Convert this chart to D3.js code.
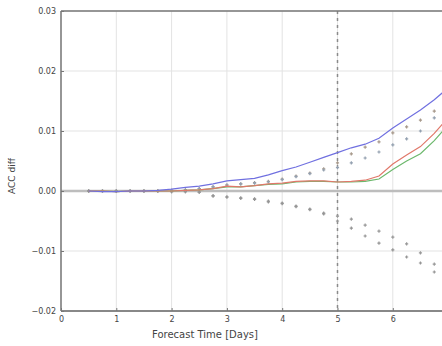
<!DOCTYPE html>
<html><head><meta charset="utf-8">
<script src="https://cdn.jsdelivr.net/npm/d3@7"></script>
<style>html,body{margin:0;padding:0;background:#fff;overflow:hidden}svg{display:block}</style>
</head><body><svg id="c" width="442" height="346"></svg>
<script>
const days = [0.5,0.75,1,1.25,1.5,1.75,2,2.25,2.5,2.75,3,3.25,3.5,3.75,4,4.25,4.5,4.75,5,5.25,5.5,5.75,6,6.25,6.5,6.75,7];
const blueVals  = [0,-0.0001,-0.0001,0,0,0.0001,0.0003,0.0006,0.0008,0.0012,0.0017,0.0019,0.0021,0.0027,0.0034,0.004,0.0048,0.0056,0.0064,0.0072,0.0078,0.0088,0.0105,0.012,0.0135,0.0152,0.0172];
const redVals   = [0,0,-0.0001,0,0,0,0,0.0001,0.0002,0.0004,0.0008,0.0007,0.0009,0.0012,0.0013,0.0016,0.0017,0.0017,0.0015,0.0016,0.0018,0.0025,0.0045,0.006,0.0074,0.0096,0.0122];
const greenVals = [0,0,-0.0001,0,0,0,0,0.0001,0.0002,0.0004,0.0007,0.0007,0.0009,0.0011,0.0012,0.0015,0.0016,0.0016,0.0015,0.0015,0.0016,0.002,0.0036,0.005,0.0062,0.0084,0.011];
const sigDays = [0.5,0.75,1,1.25,1.5,1.75,2,2.25,2.5,2.75,3,3.25,3.5,3.75,4,4.25,4.5,4.75,5,5.25,5.5,5.75,6,6.25,6.5,6.75];
const upperA = [0,0,0,0,0,0,0.0001,0.0002,0.0004,0.0007,0.001,0.0012,0.0014,0.0016,0.002,0.0025,0.003,0.0037,0.0047,0.0062,0.0073,0.0082,0.0097,0.0107,0.0118,0.0133];
const upperB = [0,0,0,0,0,0,0.0001,0.0002,0.0004,0.0007,0.001,0.0012,0.0013,0.0015,0.0019,0.0024,0.0029,0.0035,0.0039,0.0047,0.0055,0.0065,0.0077,0.0087,0.010,0.0122];
const lowerA = [0,0,0,0,0,0,-0.0001,-0.0001,-0.0002,-0.0008,-0.001,-0.0012,-0.0013,-0.0017,-0.002,-0.0025,-0.003,-0.0037,-0.0042,-0.0047,-0.0057,-0.0067,-0.0077,-0.0088,-0.0103,-0.0122];
const lowerB = [0,0,0,0,0,0,-0.0001,-0.0001,-0.0002,-0.0008,-0.001,-0.0012,-0.0014,-0.0018,-0.0021,-0.0026,-0.0031,-0.0038,-0.005,-0.0062,-0.0075,-0.0087,-0.0098,-0.011,-0.012,-0.0135];
const xTicks = [0,1,2,3,4,5,6];
const yTicks = [-0.02,-0.01,0,0.01,0.02,0.03];
const yTickLabels = ["\u22120.02","\u22120.01","0.00","0.01","0.02","0.03"];

const svg = d3.select("#c");
const x = d3.scaleLinear().domain([0, 10]).range([61, 61 + 553]);
const y = d3.scaleLinear().domain([-0.02, 0.03]).range([311, 11]);
const W = 442;

const g = svg.append("g");
g.selectAll(".gx").data(xTicks).enter().append("line")
  .attr("x1", d => x(d)).attr("x2", d => x(d)).attr("y1", y(0.03)).attr("y2", y(-0.02))
  .attr("stroke", "#e3e3e3").attr("stroke-width", 1);
g.selectAll(".gy").data(yTicks).enter().append("line")
  .attr("x1", x(0)).attr("x2", W).attr("y1", d => y(d)).attr("y2", d => y(d))
  .attr("stroke", "#e3e3e3").attr("stroke-width", 1);
g.append("line").attr("x1", x(0)).attr("x2", W).attr("y1", y(0)).attr("y2", y(0))
  .attr("stroke", "#bdbdbd").attr("stroke-width", 2.5);
g.append("line").attr("x1", x(5)).attr("x2", x(5)).attr("y1", y(0.03)).attr("y2", y(-0.02))
  .attr("stroke", "#8a8a8a").attr("stroke-width", 1.5).attr("stroke-dasharray", "3,4");

function markers(vals, color) {
  const grp = g.append("g");
  sigDays.forEach((d, i) => {
    const cx = x(d), cy = y(vals[i]);
    grp.append("path").attr("d", `M${cx-1.6},${cy}H${cx+1.6}M${cx},${cy-1.6}V${cy+1.6}`)
      .attr("stroke", color).attr("stroke-width", 1.2);
  });
}
markers(upperA, "#a89a8c");
markers(upperB, "#93a0b0");
markers(lowerA, "#999");
markers(lowerB, "#959595");

const line = d3.line().x((d, i) => x(days[i])).y(d => y(d));
g.append("path").datum(greenVals).attr("d", line).attr("fill", "none").attr("stroke", "#6cb86c").attr("stroke-width", 1.2);
g.append("path").datum(redVals).attr("d", line).attr("fill", "none").attr("stroke", "#e0786a").attr("stroke-width", 1.2);
g.append("path").datum(blueVals).attr("d", line).attr("fill", "none").attr("stroke", "#7070e0").attr("stroke-width", 1.2);

g.append("line").attr("x1", x(0)).attr("x2", W).attr("y1", y(0.03)).attr("y2", y(0.03)).attr("stroke", "#777").attr("stroke-width", 1.5);
g.append("line").attr("x1", x(0)).attr("x2", W).attr("y1", y(-0.02)).attr("y2", y(-0.02)).attr("stroke", "#888").attr("stroke-width", 2);
g.append("line").attr("x1", x(0)).attr("x2", x(0)).attr("y1", y(0.03)).attr("y2", y(-0.02)).attr("stroke", "#777").attr("stroke-width", 1.5);

const xAxis = d3.axisBottom(x).tickValues(xTicks).tickFormat(d3.format("d")).tickSize(-3).tickPadding(5);
const xa = svg.append("g").attr("transform", `translate(0,${y(-0.02)})`).call(xAxis);
xa.select(".domain").remove();
xa.selectAll("line").attr("stroke", "#777");
xa.selectAll("text").attr("font-family", "DejaVu Sans, sans-serif").attr("font-size", 8).attr("fill", "#444");

const yAxis = d3.axisLeft(y).tickValues(yTicks).tickFormat((d, i) => yTickLabels[i]).tickSize(-3).tickPadding(5);
const ya = svg.append("g").attr("transform", `translate(${x(0)},0)`).call(yAxis);
ya.select(".domain").remove();
ya.selectAll("line").attr("stroke", "#777");
ya.selectAll("text").attr("font-family", "DejaVu Sans, sans-serif").attr("font-size", 8).attr("fill", "#444");

svg.append("text").attr("x", 205).attr("y", 338).attr("text-anchor", "middle")
  .attr("font-family", "DejaVu Sans, sans-serif").attr("font-size", 10).attr("fill", "#444")
  .text("Forecast Time [Days]");
svg.append("text").attr("transform", "translate(15,176) rotate(-90)").attr("text-anchor", "middle")
  .attr("font-family", "DejaVu Sans, sans-serif").attr("font-size", 9).attr("fill", "#444")
  .text("ACC diff");
</script></body></html>
